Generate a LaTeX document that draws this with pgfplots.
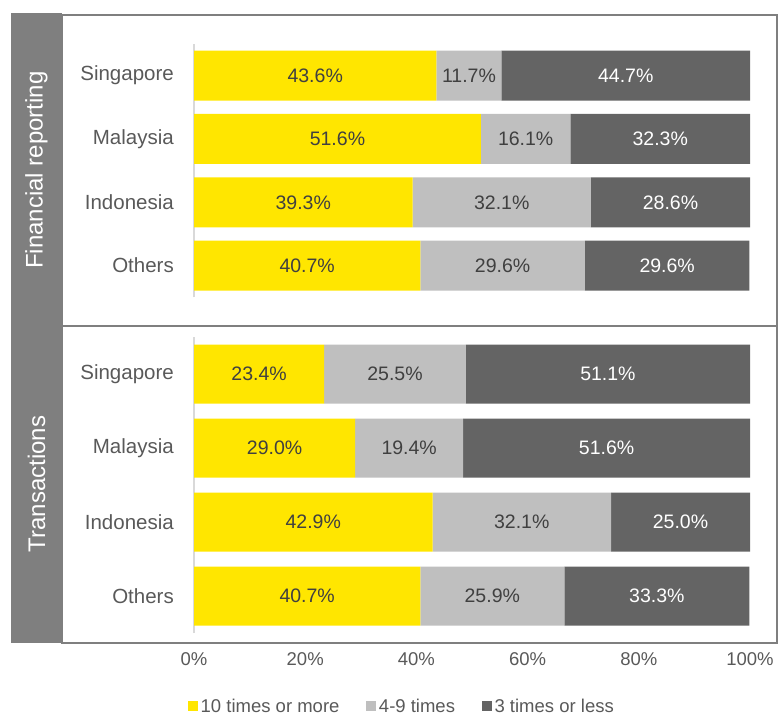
\documentclass[border=0pt]{standalone}
\usepackage{pgfplots}
\pgfplotsset{compat=1.18}
\usepackage{pgfplotstable}
\usepackage{fontspec}
\setmainfont{Liberation Sans}

\definecolor{eyYellow}{HTML}{FFE600}
\definecolor{lightBar}{HTML}{BFBFBF}
\definecolor{darkBar}{HTML}{646464}
\definecolor{bandGray}{HTML}{7F7F7F}
\definecolor{txtGray}{HTML}{595959}
\definecolor{valGray}{HTML}{404040}
\definecolor{axGray}{HTML}{D9D9D9}

% y: 3 = Singapore ... 0 = Others
\pgfplotstableread{
y a b c
3 43.6 11.7 44.7
2 51.6 16.1 32.3
1 39.3 32.1 28.6
0 40.7 29.6 29.6
}\finrep
\pgfplotstableread{
y a b c
3 23.4 25.5 51.1
2 29.0 19.4 51.6
1 42.9 32.1 25.0
0 40.7 25.9 33.3
}\trans

\pgfplotsset{
  panel/.style={
    scale only axis, width=556bp,
    xbar stacked,
    xmin=0, xmax=100, ymin=-0.5, ymax=3.5,
    enlargelimits=false,
    axis x line*=bottom, axis y line*=left,
    x axis line style={draw=none},
    y axis line style={draw=axGray, line width=1.5bp},
    major tick length=0pt, tick style={draw=none},
    ytick={0,1,2,3},
    yticklabels={Others,Indonesia,Malaysia,Singapore},
    yticklabel style={font=\fontsize{20.5bp}{24bp}\selectfont, text=txtGray,
      anchor=east, inner sep=0pt, xshift=-20bp},
    /pgf/number format/assume math mode=true,
    point meta=explicit,
    nodes near coords={\pgfmathprintnumber[fixed,fixed zerofill,precision=1]{\pgfplotspointmeta}\%},
    nodes near coords align={center},
    nodes near coords style={font=\fontsize{19.5bp}{23bp}\selectfont, anchor=center},
  },
}

\begin{document}
\begin{tikzpicture}
\useasboundingbox (0,0) rectangle (778bp,-716bp);
% panel frames and side bands
\fill[bandGray] (11bp,-13bp) rectangle (62bp,-643bp);
\draw[bandGray, line width=1.5bp] (62bp,-15bp) rectangle (777bp,-326bp);
\draw[bandGray, line width=1.5bp] (62bp,-326bp) rectangle (777bp,-643bp);
\node[rotate=90, text=white, font=\fontsize{24bp}{28bp}\selectfont] at (36.5bp,-170bp) {Financial reporting};
\node[rotate=90, text=white, font=\fontsize{24bp}{28bp}\selectfont] at (36.5bp,-484bp) {Transactions};

\begin{axis}[panel, at={(194bp,-44bp)}, anchor=north west,
  height=253.3bp, bar width=50bp, xtick=\empty]
\addplot[fill=eyYellow, draw=none, nodes near coords style={text=valGray}]
  table[x=a, y=y, meta=a]{\finrep};
\addplot[fill=lightBar, draw=none, nodes near coords style={text=valGray}]
  table[x=b, y=y, meta=b]{\finrep};
\addplot[fill=darkBar, draw=none, nodes near coords style={text=white}]
  table[x=c, y=y, meta=c]{\finrep};
\end{axis}

\begin{axis}[panel, at={(194bp,-337bp)}, anchor=north west,
  height=296bp, bar width=59bp,
  xtick={0,20,...,100},
  xticklabel={\pgfmathprintnumber{\tick}\%},
  xticklabel style={font=\fontsize{18.5bp}{22bp}\selectfont, text=txtGray,
    anchor=center, yshift=-26bp},
  legend columns=3,
  legend style={at={(0.375,-0.247)}, anchor=center, draw=none, fill=none,
    font=\fontsize{18.5bp}{22bp}\selectfont, text=txtGray,
    /tikz/every even column/.append style={column sep=24bp},
    nodes={inner sep=3bp}},
  legend image code/.code={\fill[#1] (0bp,-4.5bp) rectangle (9.5bp,5bp);},
]
\addplot[fill=eyYellow, draw=none, nodes near coords style={text=valGray}]
  table[x=a, y=y, meta=a]{\trans};
\addplot[fill=lightBar, draw=none, nodes near coords style={text=valGray}]
  table[x=b, y=y, meta=b]{\trans};
\addplot[fill=darkBar, draw=none, nodes near coords style={text=white}]
  table[x=c, y=y, meta=c]{\trans};
\legend{10 times or more, 4-9 times, 3 times or less}
\end{axis}
\end{tikzpicture}
\end{document}
